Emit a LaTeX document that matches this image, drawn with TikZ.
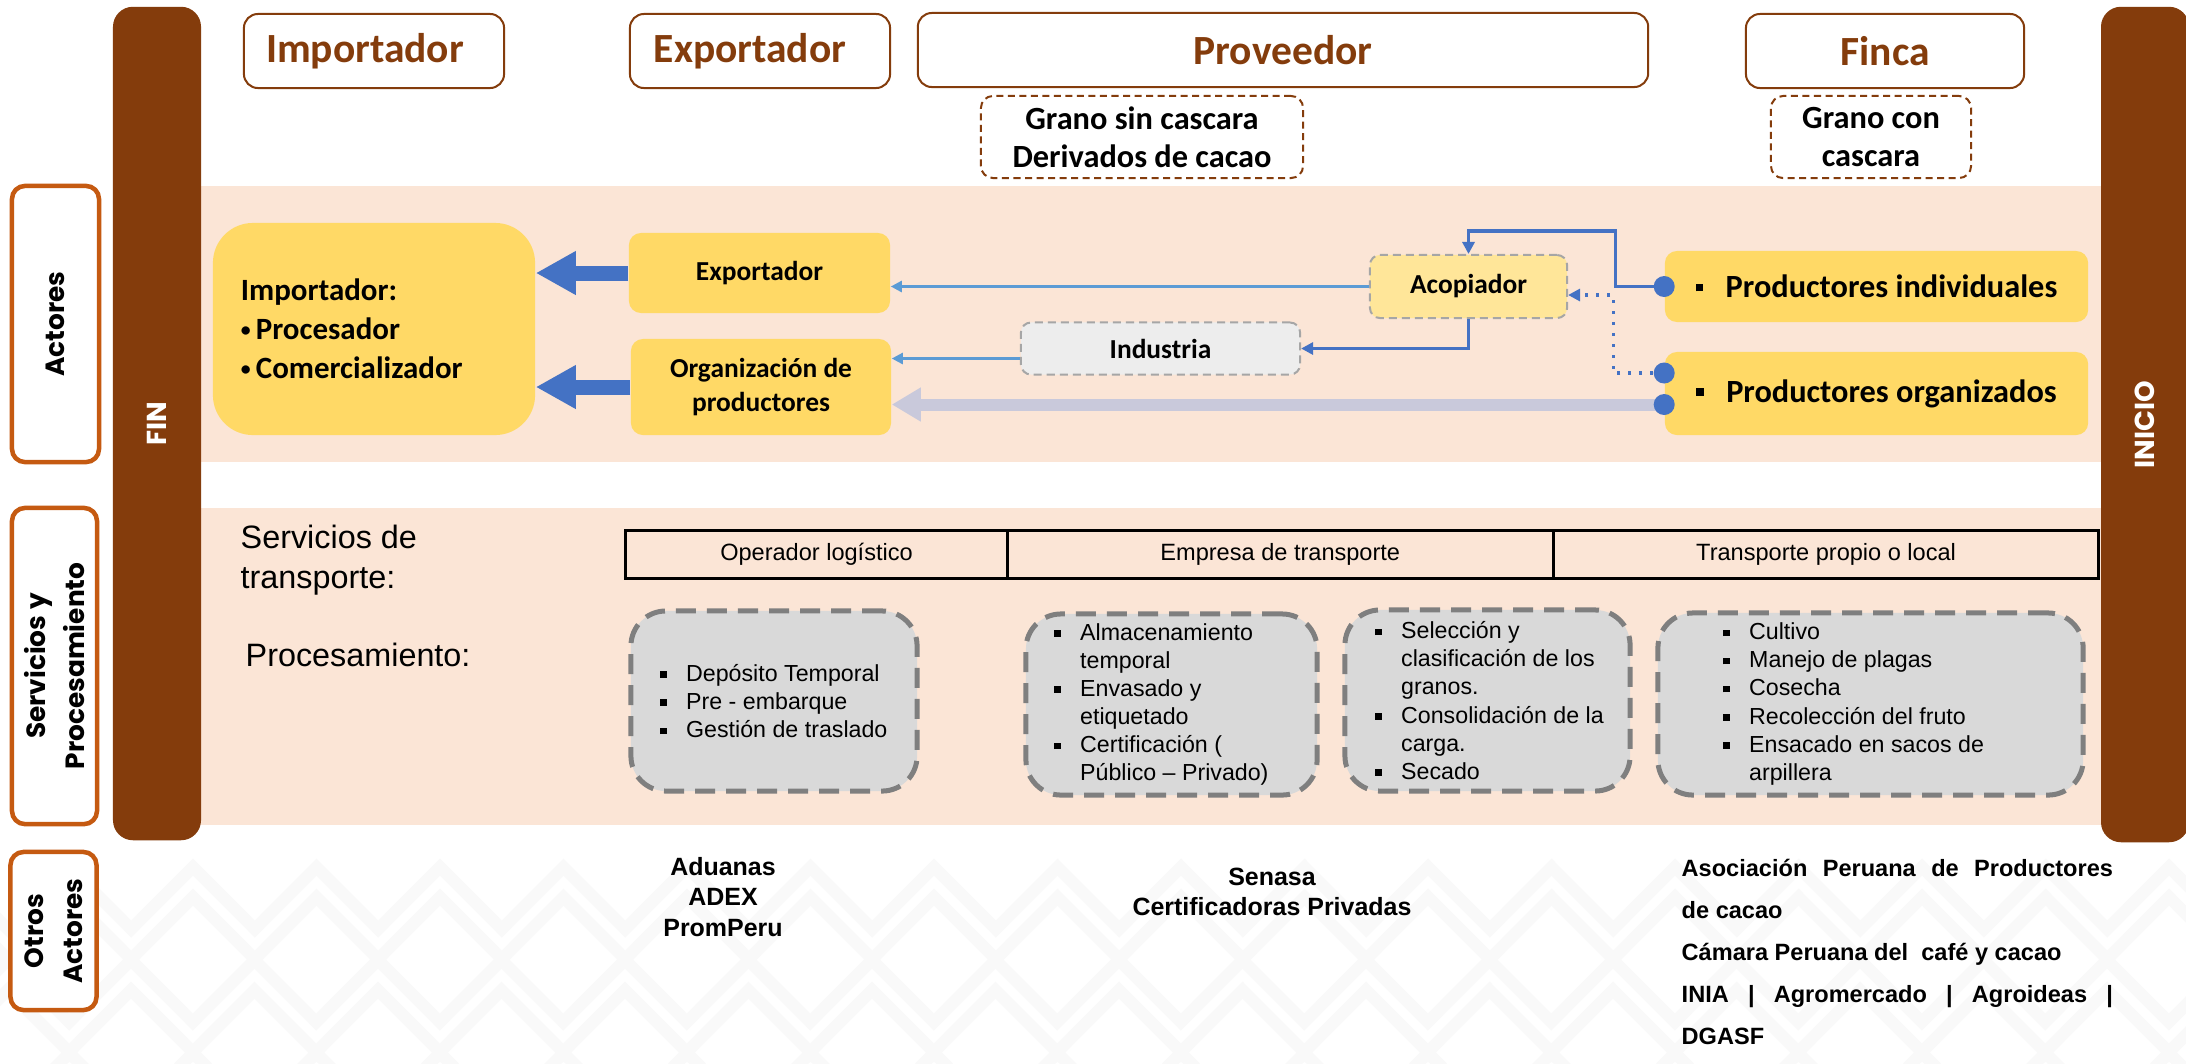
\documentclass[tikz,border=0pt]{standalone}
\usepackage{fontspec}
\setmainfont{Carlito}
\newfontfamily\arialf{Liberation Sans}
\newfontfamily\lblf{Poppins}
\usetikzlibrary{arrows.meta,positioning}
\definecolor{brownd}{HTML}{843C0C}
\definecolor{orangel}{HTML}{C55A11}
\definecolor{peach}{HTML}{FBE5D6}
\definecolor{yellowd}{HTML}{FFD966}
\definecolor{yellowl}{HTML}{FFE699}
\definecolor{grayl}{HTML}{EDEDED}
\definecolor{grayb}{HTML}{D9D9D9}
\definecolor{grayd}{HTML}{7F7F7F}
\definecolor{dashg}{HTML}{A6A6A6}
\definecolor{blued}{HTML}{4472C4}
\definecolor{lblue}{HTML}{5B9BD5}
\definecolor{lav}{HTML}{C9C9DB}
\newcommand{\sqb}{\makebox[0.26cm][l]{\raisebox{0.15em}{\rule{0.065cm}{0.065cm}}}}
\newcommand{\sqc}{\hspace*{0.26cm}}
\newcommand{\pbul}{\makebox[0.30cm][l]{\raisebox{0.2em}{\rule{0.075cm}{0.075cm}}}}
\newcommand{\dotb}{\raisebox{0.12em}{\fontsize{5.6}{5.6}\selectfont•}\,}
\tikzset{
  hdr/.style={draw=brownd, line width=0.02cm, rounded corners=0.14cm, fill=white, text=brownd, font=\bfseries\fontsize{11.8}{14}\selectfont, minimum height=0.74cm, inner sep=0pt},
  tagbox/.style={draw=brownd, line width=0.02cm, dash pattern=on 0.07cm off 0.045cm, rounded corners=0.12cm, fill=white, align=center, font=\bfseries\fontsize{9.2}{10.7}\selectfont, minimum height=0.82cm, inner sep=0pt},
  sidelbl/.style={draw=orangel, line width=0.045cm, rounded corners=0.13cm, fill=white, rotate=90, align=center, font=\lblf\bfseries\fontsize{7.5}{11.2}\selectfont, inner sep=0pt},
  bar/.style={fill=brownd, rounded corners=0.2cm, rotate=90, text=white, font=\lblf\bfseries\fontsize{7.8}{9}\selectfont, inner sep=0pt, minimum height=0.88cm},
  actor/.style={fill=yellowd, rounded corners=0.12cm, align=center, font=\bfseries\fontsize{7.8}{9.7}\selectfont, inner sep=0pt},
  prod/.style={actor, font=\bfseries\fontsize{9.2}{11}\selectfont, minimum width=4.23cm},
  middle/.style={draw=dashg, line width=0.02cm, dash pattern=on 0.08cm off 0.05cm, rounded corners=0.1cm, font=\bfseries\fontsize{7.8}{9.7}\selectfont, inner sep=0pt},
  cell/.style={draw=black, line width=0.03cm, minimum height=0.48cm, inner sep=0pt, outer sep=0pt, font=\arialf\fontsize{6.7}{8}\selectfont},
  procbox/.style={fill=grayb, draw=grayd, line width=0.05cm, dash pattern=on 0.2cm off 0.11cm, rounded corners=0.35cm, inner sep=0pt},
  proctext/.style={anchor=west, align=left, inner sep=0pt, font=\arialf\fontsize{6.6}{8}\selectfont},
  atext/.style={inner sep=0pt, align=left, font=\arialf\fontsize{9.2}{11.4}\selectfont},
  btext/.style={inner sep=0pt, align=center, font=\arialf\bfseries\fontsize{7.1}{8.6}\selectfont},
  bigarr/.style={-{Triangle[length=0.4cm,width=0.41cm]}, line width=0.15cm, draw=blued},
  lavarr/.style={-{Triangle[length=0.29cm,width=0.32cm]}, line width=0.12cm, draw=lav},
  thinarr/.style={-{Triangle[length=0.11cm,width=0.11cm]}, line width=0.025cm, draw=lblue},
  bluearr/.style={-{Triangle[length=0.12cm,width=0.12cm]}, line width=0.033cm, draw=blued},
  dotarr/.style={bluearr, dash pattern=on 0.03cm off 0.08cm},
  dot/.style={fill=blued}
}

\begin{document}
\begin{tikzpicture}[x=0.01cm, y=-0.01cm]
\path[use as bounding box, fill=white] (0,0) rectangle (2186,1063);
\begin{scope}[draw=black!2.5, line width=0.12cm]
\foreach \yy/\xo in {867/193, 897/193, 960/131, 990/131, 1053/193}
  {\draw (\xo-247,\yy) \foreach \k in {1,...,21} {-- ++(61.75,62) -- ++(61.75,-62)};}
\end{scope}
\fill[peach] (201,186) rectangle (2101,462);
\fill[peach] (201,508) rectangle (2101,825);

\node[bar, minimum width=8.33cm] (fin) at (157,423.5) {FIN};
\node[bar, minimum width=8.35cm] (ini) at (2145,424.5) {INICIO};

\node[hdr, minimum width=2.60cm] (himp) at (374,51) {Importador\hspace*{0.18cm}};
\node[hdr, minimum width=2.60cm] (hexp) at (760,51) {Exportador\hspace*{0.2cm}};
\node[hdr, minimum width=7.30cm] (hprov) at (1283,50) {Proveedor};
\node[hdr, minimum width=2.78cm] (hfin) at (1885,51) {Finca};
\node[tagbox, minimum width=3.22cm] (tsin) at (1142,137) {Grano sin cascara\\Derivados de cacao};
\node[tagbox, minimum width=2.00cm] (tcon) at (1871,137) {Grano con\\cascara};

\node[sidelbl, minimum width=2.76cm, minimum height=0.87cm] (lact) at (55.5,324) {Actores};
\node[sidelbl, minimum width=3.16cm, minimum height=0.85cm] (lsrv) at (54.5,666) {Servicios y\\Procesamiento};
\node[sidelbl, minimum width=1.58cm, minimum height=0.86cm] (lotr) at (53.5,931) {Otros\\Actores};

\node[actor, rounded corners=0.4cm, minimum width=3.22cm, minimum height=2.12cm, text width=2.66cm, align=left, font=\bfseries\fontsize{8.8}{11.1}\selectfont] (imp) at (374,329) {Importador:\\\dotb Procesador\\\dotb Comercializador};
\node[actor, minimum width=2.61cm, minimum height=0.80cm] (exp) at (759.5,273) {Exportador};
\node[actor, minimum width=2.60cm, minimum height=0.96cm] (org) at (761,387) {Organización de\\productores};
\node[middle, fill=yellowl, minimum width=1.97cm, minimum height=0.63cm] (acop) at (1468.5,286.5) {Acopiador};
\node[middle, fill=grayl, minimum width=2.79cm, minimum height=0.52cm] (ind) at (1160.5,348.5) {Industria};
\node[prod, minimum height=0.71cm] (pind) at (1876.5,286.5) {\pbul Productores individuales};
\node[prod, minimum height=0.83cm] (porg) at (1876.5,393.5) {\pbul Productores organizados};

\draw[bigarr] (exp.west) -- (exp.west -| imp.east);
\draw[bigarr] (org.west) -- (org.west -| imp.east);
\draw[thinarr] (acop.west) -- (acop.west -| exp.east);
\draw[thinarr] ([yshift=-0.1cm]ind.west) -- ([yshift=-0.1cm]ind.west -| org.east);
\coordinate (d1) at (pind.west);
\coordinate (d2) at ([yshift=0.205cm]porg.west);
\coordinate (d3) at ([yshift=-0.11cm]porg.west);
\draw[lavarr] (d3) -- (d3 -| org.east);
\draw[bluearr] (d1) -- ++(-49,0) |- ([yshift=0.23cm]acop.north) -- (acop.north);
\draw[bluearr] (acop.south) |- (ind.east);
\draw[dotarr] (d2) -- ++(-51,0) |- ([yshift=-0.085cm]acop.east);
\foreach \d in {d1,d2,d3} {\fill[dot] (\d) circle[radius=0.105cm];}

\node[atext, anchor=west] (srv) at (240,560) {Servicios de\\transporte:};
\node[atext, anchor=west] (proc) at (245,655) {Procesamiento:};
\node[cell, minimum width=3.81cm] (c1) at (816.5,554) {Operador logístico};
\node[cell, minimum width=5.46cm, right=0pt of c1] (c2) {Empresa de transporte};
\node[cell, minimum width=5.45cm, right=0pt of c2] (c3) {Transporte propio o local};

\node[procbox, minimum width=2.86cm, minimum height=1.80cm] (gb1) at (774,701) {};
\node[procbox, minimum width=2.91cm, minimum height=1.81cm] (gb2) at (1171.5,704.5) {};
\node[procbox, minimum width=2.85cm, minimum height=1.81cm] (gb3) at (1487.5,700.5) {};
\node[procbox, minimum width=4.25cm, minimum height=1.82cm] (gb4) at (1870.5,704) {};
\node[proctext] (gt1) at ([xshift=0.31cm]gb1.west) {\sqb Depósito Temporal\\\sqb Pre - embarque\\\sqb Gestión de traslado};
\node[proctext] (gt2) at ([xshift=0.30cm]gb2.west) {\sqb Almacenamiento\\\sqc temporal\\\sqb Envasado y\\\sqc etiquetado\\\sqb Certificación (\\\sqc Público – Privado)};
\node[proctext] (gt3) at ([xshift=0.32cm]gb3.west) {\sqb Selección y\\\sqc clasificación de los\\\sqc granos.\\\sqb Consolidación de la\\\sqc carga.\\\sqb Secado};
\node[proctext] (gt4) at ([xshift=0.67cm]gb4.west) {\sqb Cultivo\\\sqb Manejo de plagas\\\sqb Cosecha\\\sqb Recolección del fruto\\\sqb Ensacado en sacos de\\\sqc arpillera};

\node[btext] (adu) at (723,897) {Aduanas\\ADEX\\PromPeru};
\node[btext] (sen) at (1272,892) {Senasa\\Certificadoras Privadas};
\node[btext, anchor=west, align=left, font=\arialf\bfseries\fontsize{6.7}{11.95}\selectfont] (asoc) at (1681,952)
  {\makebox[4.31cm][s]{Asociación Peruana de Productores}\\de cacao\\Cámara Peruana del\ \ café y cacao\\\makebox[4.31cm][s]{INIA \ | \ Agromercado \ | \ Agroideas \ |}\\DGASF};
\end{tikzpicture}
\end{document}
